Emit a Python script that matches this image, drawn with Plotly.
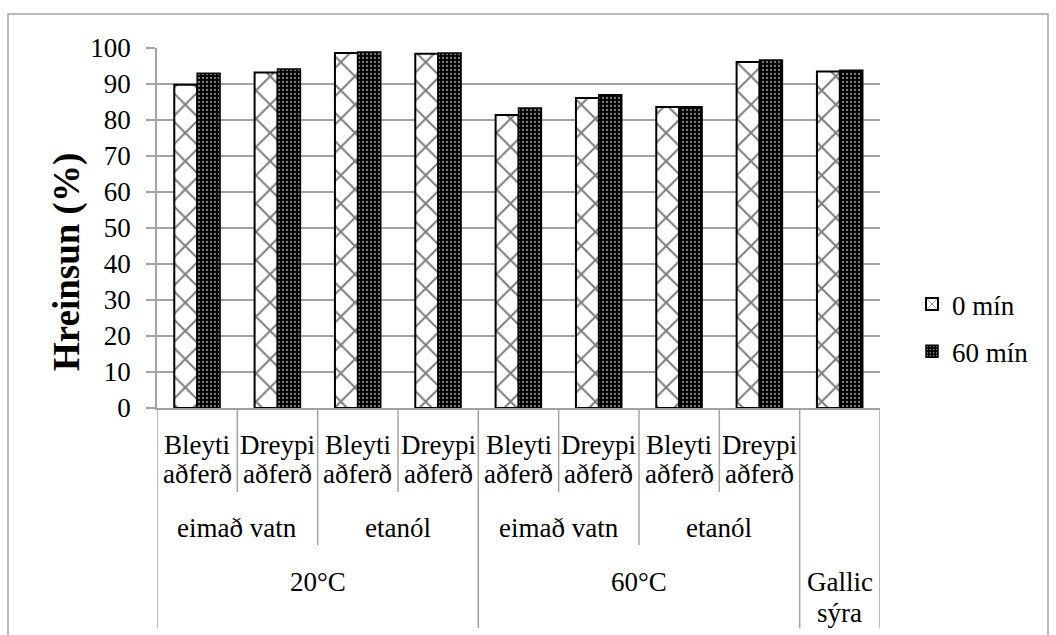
import plotly.graph_objects as go

# Hierarchical category labels (outer -> inner)
temps = ["20°C", "20°C", "20°C", "20°C", "60°C", "60°C", "60°C", "60°C", "Gallic sýra"]
solvents = ["eimað vatn", "eimað vatn", "etanól", "etanól",
            "eimað vatn", "eimað vatn", "etanól", "etanól", ""]
methods = ["Bleyti aðferð", "Dreypi aðferð", "Bleyti aðferð", "Dreypi aðferð",
           "Bleyti aðferð", "Dreypi aðferð", "Bleyti aðferð", "Dreypi aðferð", ""]

# Hreinsun (%) per series
series_names = ["0 mín", "60 mín"]
vals_0 = [89.8, 93.2, 98.6, 98.4, 81.4, 86.1, 83.6, 96.1, 93.5]
vals_60 = [93.0, 94.2, 98.9, 98.6, 83.3, 87.0, 83.7, 96.7, 93.8]

y_ticks = [0, 10, 20, 30, 40, 50, 60, 70, 80, 90, 100]

W, H = 1056, 635
L, R, T, B = 157, 880, 48, 408  # plot area in pixels
FONT = "Liberation Serif"
GRID = "#a3a3a3"


def fx(px):
    return (px - L) / (R - L)


def fy(py):
    return (B - py) / (B - T)


pos = list(range(len(temps)))

fig = go.Figure()
fig.add_trace(go.Bar(
    x=pos, y=vals_0, name=series_names[0], legendgroup="a",
    marker=dict(color="white", line=dict(color="black", width=2),
                pattern=dict(shape="x", fgcolor="black", bgcolor="white",
                             size=20, solidity=0.2)),
))
fig.add_trace(go.Bar(
    x=pos, y=vals_60, name=series_names[1], legendgroup="b",
    marker=dict(color="black", line=dict(color="black", width=1.5),
                pattern=dict(shape=".", fgcolor="white", bgcolor="black",
                             size=4, solidity=0.25)),
))

shapes = []
annotations = []

# category separators for the three label rows
row_bottom = {1: 492, 2: 545, 3: 628}
n = len(temps)
for b in range(n + 1):
    if b == 0 or b == n or temps[b - 1] != temps[b]:
        depth = 3
    elif solvents[b - 1] != solvents[b]:
        depth = 2
    else:
        depth = 1
    shapes.append(dict(type="line", xref="x", yref="paper",
                       x0=b - 0.5, x1=b - 0.5, y0=fy(B), y1=fy(row_bottom[depth]),
                       line=dict(color=GRID, width=1.5)))

lab_font = dict(family=FONT, size=27, color="black")

# inner row: method labels, one word per line
for i, m in enumerate(methods):
    for k, word in enumerate(m.split()):
        annotations.append(dict(x=i, y=fy(445 + 29 * k), xref="x", yref="paper",
                                text=word, showarrow=False, font=lab_font,
                                xanchor="center", yanchor="middle"))


def spans(labels):
    out = []
    start = 0
    for i in range(1, len(labels) + 1):
        if i == len(labels) or labels[i] != labels[start] or temps[i] != temps[start]:
            out.append((labels[start], start, i - 1))
            start = i
    return out


for lab, a, b in spans(solvents):
    if lab:
        annotations.append(dict(x=(a + b) / 2, y=fy(528), xref="x", yref="paper",
                                text=lab, showarrow=False, font=lab_font,
                                xanchor="center", yanchor="middle"))

for lab, a, b in spans(temps):
    for k, word in enumerate(lab.split() if " " in lab and "°" not in lab else [lab]):
        annotations.append(dict(x=(a + b) / 2, y=fy(582 + 31 * k), xref="x", yref="paper",
                                text=word, showarrow=False, font=lab_font,
                                xanchor="center", yanchor="middle"))

# y-axis title
annotations.append(dict(x=fx(67), y=fy(262), xref="paper", yref="paper",
                        text="<b>Hreinsun (%)</b>", textangle=-90, showarrow=False,
                        font=dict(family=FONT, size=37, color="black"),
                        xanchor="center", yanchor="middle"))

# chart frame
shapes.append(dict(type="rect", xref="paper", yref="paper",
                   x0=fx(8), x1=fx(1048), y0=fy(650), y1=fy(14),
                   line=dict(color=GRID, width=1.5), fillcolor="rgba(0,0,0,0)", layer="below"))

fig.update_layout(
    width=W, height=H,
    margin=dict(l=L, r=W - R, t=T, b=H - B, pad=0),
    paper_bgcolor="white", plot_bgcolor="white",
    barmode="group", bargap=0.43, bargroupgap=0,
    font=dict(family=FONT, size=27, color="black"),
    xaxis=dict(range=[-0.5, n - 0.5], showticklabels=False, ticks="",
               showgrid=False, zeroline=False, showline=True,
               linecolor=GRID, linewidth=1.5, fixedrange=True),
    yaxis=dict(range=[0, 100], tickvals=y_ticks, ticks="outside", ticklen=9,
               tickcolor=GRID, tickwidth=1.5, ticklabelstandoff=10,
               showgrid=True, gridcolor=GRID, gridwidth=1.5,
               zeroline=False, showline=True, linecolor=GRID, linewidth=1.5,
               tickfont=dict(family=FONT, size=27)),
    legend=dict(x=fx(912), y=fy(280), xanchor="left", yanchor="top",
                traceorder="grouped", tracegroupgap=9,
                font=dict(family=FONT, size=27), bgcolor="rgba(0,0,0,0)"),
    shapes=shapes, annotations=annotations,
)

fig.write_html("out.html")
